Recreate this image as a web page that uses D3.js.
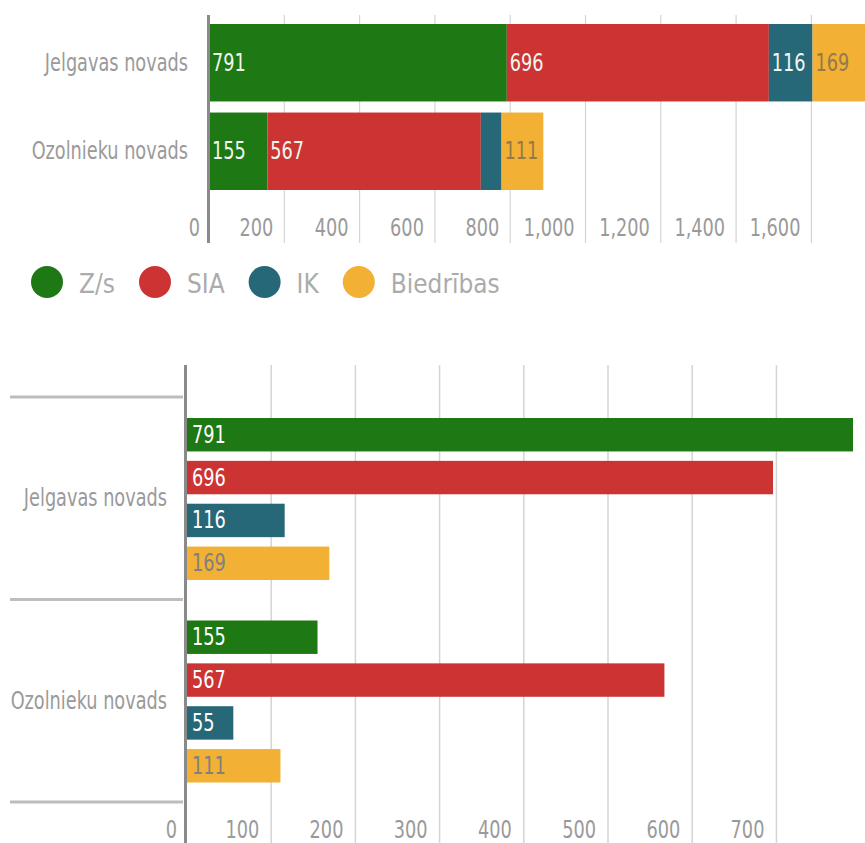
<!DOCTYPE html>
<html>
<head>
<meta charset="utf-8">
<script src="https://cdn.jsdelivr.net/npm/d3@7"></script>
<style>
  html, body { margin: 0; padding: 0; background: #fff; }
  svg { display: block; }
  text { font-family: "Liberation Sans Narrow", "DejaVu Sans Condensed", "DejaVu Sans", sans-serif; }
</style>
</head>
<body>
<div id="chart"></div>
<script>
'use strict';

// categories and series
var regions = ['Jelgavas novads', 'Ozolnieku novads'];
var seriesNames = ['Z/s', 'SIA', 'IK', 'Biedrības'];
var seriesColors = ['#1e7814', '#cc3434', '#266878', '#f2b034'];

// values per region, in series order
var jelgavasValues = [791, 696, 116, 169];
var ozolniekuValues = [155, 567, 55, 111];
var regionValues = [jelgavasValues, ozolniekuValues];

// tick values of both axes
var stackTicks = [0, 200, 400, 600, 800, 1000, 1200, 1400, 1600];
var groupTicks = [0, 100, 200, 300, 400, 500, 600, 700];

var W = 865, H = 843;

var svg = d3.select('#chart')
  .append('svg')
    .attr('width', W)
    .attr('height', H);

var fmt = d3.format(',');

// squeeze text horizontally, the original uses a narrow face
function condense(sel, k){
  sel.each(function(){
    var len = this.getComputedTextLength();
    d3.select(this)
      .attr('textLength', len * k)
      .attr('lengthAdjust', 'spacingAndGlyphs');
  });
  return sel;
}

var NARROW = 0.82;

// ---------- stacked chart ----------

var xStack = d3.scaleLinear()
  .domain([0, 1800])
  .range([209, 209 + 1800 * 0.3765]);

var yStack = d3.scaleBand()
  .domain(regions)
  .range([24, 190])
  .paddingInner(0.125);

var stacked = svg.append('g').attr('class', 'stacked');

// gridlines
stacked.selectAll('.grid')
  .data(stackTicks.slice(1))
  .enter().append('line')
    .attr('x1', function(d){ return xStack(d); })
    .attr('x2', function(d){ return xStack(d); })
    .attr('y1', 15)
    .attr('y2', 243)
    .attr('stroke', '#d4d4d4')
    .attr('stroke-width', 1.2);

// segments
regions.forEach(function(r, ri){
  var start = 0;
  regionValues[ri].forEach(function(v, si){
    var x0 = xStack(start), x1 = xStack(start + v);
    var yy = yStack(r);
    stacked.append('rect')
      .attr('x', x0)
      .attr('y', yy)
      .attr('width', x1 - x0)
      .attr('height', yStack.bandwidth())
      .attr('fill', seriesColors[si]);
    var t = stacked.append('text')
      .attr('x', x0 + 3)
      .attr('y', yy + yStack.bandwidth() / 2)
      .attr('dominant-baseline', 'central')
      .attr('font-size', 24)
      .attr('fill', si === 3 ? '#94794a' : '#f2f6ef')
      .text(v);
    condense(t, NARROW);
    // drop the label when the segment is too thin for it
    if (+t.attr('textLength') + 4 > x1 - x0) t.remove();
    start += v;
  });
});

// axis line
stacked.append('line')
  .attr('x1', xStack(0) - 0.5)
  .attr('x2', xStack(0) - 0.5)
  .attr('y1', 15)
  .attr('y2', 243)
  .attr('stroke', '#8a8a8a')
  .attr('stroke-width', 3);

// category labels
stacked.selectAll('.cat')
  .data(regions)
  .enter().append('text')
    .attr('x', 188)
    .attr('y', function(d){ return yStack(d) + yStack.bandwidth() / 2; })
    .attr('text-anchor', 'end')
    .attr('dominant-baseline', 'central')
    .attr('font-size', 24)
    .attr('fill', '#9a9a9a')
    .text(function(d){ return d; })
    .call(condense, NARROW);

// tick labels, right aligned just before each gridline
stacked.selectAll('.tick')
  .data(stackTicks)
  .enter().append('text')
    .attr('x', function(d){ return xStack(d) - (d === 0 ? 9 : 11); })
    .attr('y', 236)
    .attr('text-anchor', 'end')
    .attr('font-size', 24)
    .attr('fill', '#9a9a9a')
    .text(function(d){ return fmt(d); })
    .call(condense, NARROW);

// legend
var legend = svg.append('g').attr('class', 'legend');
var lx = 31;
seriesNames.forEach(function(name, i){
  legend.append('circle')
    .attr('cx', lx + 16)
    .attr('cy', 282)
    .attr('r', 16)
    .attr('fill', seriesColors[i]);
  var t = legend.append('text')
    .attr('x', lx + 32 + 16)
    .attr('y', 283)
    .attr('dominant-baseline', 'central')
    .attr('font-size', 27)
    .attr('fill', '#ababab')
    .text(name);
  condense(t, 0.96);
  lx += 32 + 16 + (+t.attr('textLength')) + 24;
});

// ---------- grouped chart ----------

var xGroup = d3.scaleLinear()
  .domain([0, 800])
  .range([187, 187 + 800 * 0.842]);

var yGroup = d3.scaleBand()
  .domain(regions)
  .range([397, 802]);

var ySeries = d3.scaleBand()
  .domain(seriesNames)
  .range([21, 183])
  .paddingInner(0.22);

var grouped = svg.append('g').attr('class', 'grouped');

// gridlines
grouped.selectAll('.grid')
  .data(groupTicks.slice(1))
  .enter().append('line')
    .attr('x1', function(d){ return xGroup(d); })
    .attr('x2', function(d){ return xGroup(d); })
    .attr('y1', 365)
    .attr('y2', H)
    .attr('stroke', '#d4d4d4')
    .attr('stroke-width', 1.5);

// group separators
var seps = regions.map(function(r){ return yGroup(r); });
seps.push(yGroup(regions[regions.length - 1]) + yGroup.step());
grouped.selectAll('.sep')
  .data(seps)
  .enter().append('line')
    .attr('x1', 10)
    .attr('x2', 183)
    .attr('y1', function(d){ return d; })
    .attr('y2', function(d){ return d; })
    .attr('stroke', '#bdbdbd')
    .attr('stroke-width', 3);

// bars
regions.forEach(function(r, ri){
  var g = grouped.append('g').attr('transform', 'translate(0,' + yGroup(r) + ')');
  regionValues[ri].forEach(function(v, si){
    var yy = ySeries(seriesNames[si]);
    g.append('rect')
      .attr('x', xGroup(0))
      .attr('y', yy)
      .attr('width', xGroup(v) - xGroup(0))
      .attr('height', ySeries.bandwidth())
      .attr('fill', seriesColors[si]);
    g.append('text')
      .attr('x', xGroup(0) + 5)
      .attr('y', yy + ySeries.bandwidth() / 2)
      .attr('dominant-baseline', 'central')
      .attr('font-size', 24)
      .attr('fill', si === 3 ? '#808080' : '#ffffff')
      .text(v)
      .call(condense, NARROW);
  });
});

// axis line
grouped.append('line')
  .attr('x1', xGroup(0) - 1.5)
  .attr('x2', xGroup(0) - 1.5)
  .attr('y1', 365)
  .attr('y2', H)
  .attr('stroke', '#8a8a8a')
  .attr('stroke-width', 3);

// category labels
grouped.selectAll('.cat')
  .data(regions)
  .enter().append('text')
    .attr('x', 167)
    .attr('y', function(d){ return yGroup(d) + yGroup.step() / 2; })
    .attr('text-anchor', 'end')
    .attr('dominant-baseline', 'central')
    .attr('font-size', 24)
    .attr('fill', '#9a9a9a')
    .text(function(d){ return d; })
    .call(condense, NARROW);

// tick labels
grouped.selectAll('.tick')
  .data(groupTicks)
  .enter().append('text')
    .attr('x', function(d){ return xGroup(d) - (d === 0 ? 10 : 12); })
    .attr('y', 838)
    .attr('text-anchor', 'end')
    .attr('font-size', 24)
    .attr('fill', '#9a9a9a')
    .text(function(d){ return d; })
    .call(condense, NARROW);
</script>
</body>
</html>
